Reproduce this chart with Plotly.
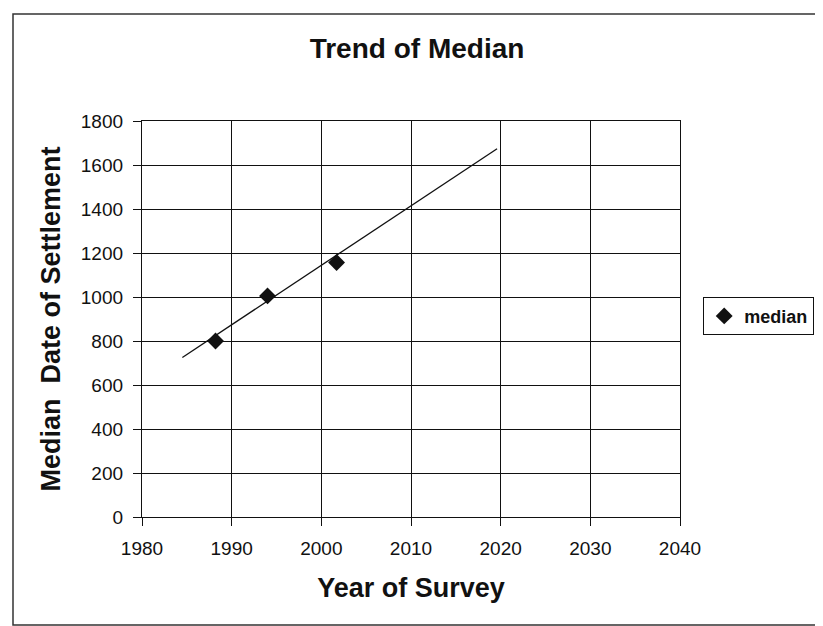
import plotly.graph_objects as go

# Data
survey_years = [1988.2, 1994.0, 2001.7]
median_dates = [800, 1005, 1157]
trend_years = [1984.5, 2019.6]
trend_values = [725, 1674]

x_ticks = [1980, 1990, 2000, 2010, 2020, 2030, 2040]
y_ticks = [0, 200, 400, 600, 800, 1000, 1200, 1400, 1600, 1800]

OFF = 8  # page body margin
W, H = 823 - 2 * OFF, 626
L, R, T, B = 142 - OFF, 680 - OFF, 121 - OFF, 517 - OFF  # plot area in figure pixels

FONT = "Liberation Sans, Arial, sans-serif"
INK = "#111111"

fig = go.Figure()
fig.add_trace(go.Scatter(
    x=trend_years, y=trend_values, mode="lines",
    line=dict(color=INK, width=1.3), showlegend=False, hoverinfo="skip"))
fig.add_trace(go.Scatter(
    x=survey_years, y=median_dates, mode="markers", name="<b>median</b>",
    marker=dict(symbol="diamond", size=13, color=INK)))

def px_x(p):
    return (p - OFF - L) / (R - L)

def px_y(p):
    return (B - (p - OFF)) / (B - T)

# chart-area frame (left, top and bottom edges; the right edge is off-page)
bx0, bx1 = px_x(13), px_x(860)
by0, by1 = px_y(625), px_y(14)
fig.add_shape(type="path", xref="paper", yref="paper",
              path=f"M {bx1},{by1} L {bx0},{by1} L {bx0},{by0} L {bx1},{by0}",
              line=dict(color="#333333", width=1.5), layer="below")

fig.update_layout(
    width=W, height=H,
    margin=dict(l=L, r=W - R, t=T, b=H - B, autoexpand=False),
    paper_bgcolor="white", plot_bgcolor="white",
    font=dict(family=FONT, color=INK),
    title=dict(text="<b>Trend of Median</b>", x=(417 - OFF) / W, xanchor="center",
               y=1 - (48 - OFF) / H, yanchor="middle", yref="container",
               font=dict(size=28, family=FONT, color=INK)),
    legend=dict(x=px_x(814), xanchor="right", y=px_y(316), yanchor="middle",
                bordercolor=INK, borderwidth=1.2, bgcolor="white",
                font=dict(size=18, family=FONT, color=INK),
                itemwidth=30, tracegroupgap=0),
    showlegend=True,
)
fig.update_xaxes(
    range=[1980, 2040], tickvals=x_ticks, ticktext=[str(v) for v in x_ticks],
    showgrid=True, gridcolor=INK, gridwidth=1.3,
    showline=True, linecolor=INK, linewidth=1.3, mirror=True,
    ticks="outside", ticklen=8, tickcolor=INK, tickwidth=1.3,
    ticklabelstandoff=6, zeroline=False,
    tickfont=dict(size=19, family=FONT, color=INK),
    title=dict(text="<b>Year of Survey</b>", standoff=20,
               font=dict(size=27, family=FONT, color=INK)))
fig.update_yaxes(
    range=[0, 1800], tickvals=y_ticks, ticktext=[str(v) for v in y_ticks],
    showgrid=True, gridcolor=INK, gridwidth=1.3,
    showline=True, linecolor=INK, linewidth=1.3, mirror=True,
    ticks="outside", ticklen=8, tickcolor=INK, tickwidth=1.3,
    ticklabelstandoff=6, zeroline=False,
    tickfont=dict(size=19, family=FONT, color=INK),
    title=dict(text="<b>Median\u00a0 Date of Settlement</b>", standoff=12,
               font=dict(size=27, family=FONT, color=INK)))

fig.write_html("out.html")
